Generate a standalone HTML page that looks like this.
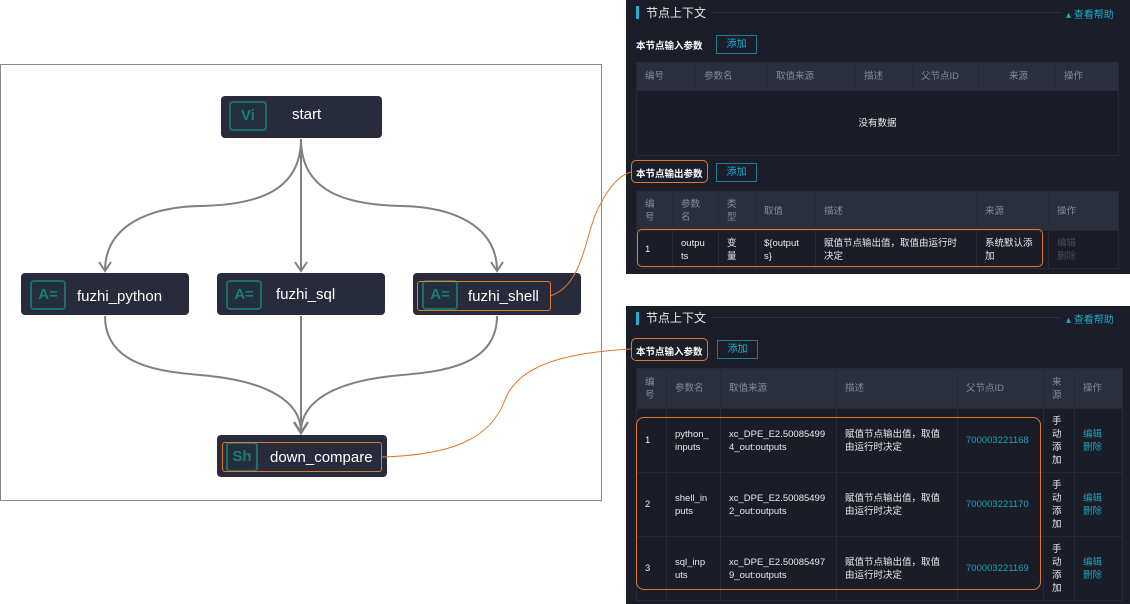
<!DOCTYPE html>
<html><head><meta charset="utf-8"><style>
*{margin:0;padding:0;box-sizing:border-box}
body{width:1130px;height:604px;background:#fff;position:relative;overflow:hidden;font-family:"Liberation Sans","Noto Sans CJK SC",sans-serif}
.abs{position:absolute}
.panel{position:absolute;left:626px;width:504px;background:#1b1e29}
.node{position:absolute;background:#282b3b;border-radius:4px;color:#fff;font-size:15px}
.ic{position:absolute;border:2px solid #1e6e6c;border-radius:4px;background:#232f3c;color:#1e7a76;font-weight:bold;font-size:15px;text-align:center}
table{position:absolute;border-collapse:collapse;table-layout:fixed;font-size:9.5px;color:#eaeaea}
td{border:1px solid #262a36;padding:0 0 0 8px;vertical-align:middle;line-height:13px;background:#1a1d28}
th{border:1px solid #262a36;padding:0 0 0 8px;font-weight:normal;color:#868b98;text-align:left;background:#2a2e3d;line-height:13px}
.bar{position:absolute;left:10px;width:3px;height:13px;background:#1fb0d0}
.ttl{position:absolute;left:20px;font-size:12px;color:#e8e8e8}
.line{position:absolute;left:86px;width:348px;height:1px;background:#2c3040}
.help{position:absolute;left:440px;font-size:10px;color:#1fa9c9}
.sub{position:absolute;left:10px;font-size:9.5px;color:#fff;font-weight:bold}
.btn{position:absolute;width:41px;height:19px;border:1px solid #1d7d92;color:#1fb0d0;font-size:10px;text-align:center;line-height:17px}
.ob{position:absolute;border:1px solid #e0792a;border-radius:5px}
.lk{color:#1fa3b5}
</style></head><body>
<div class="abs" style="left:0;top:64px;width:602px;height:437px;border:1px solid #888"></div>
<svg class="abs" style="left:0;top:0" width="1130" height="604">
<g fill="none" stroke="#808080" stroke-width="2">
<path d="M301 139 C301 195 250 205 200 206 C150 207 105 225 105 271"/>
<path d="M301 139 L301 271"/>
<path d="M301 139 C301 195 352 205 402 206 C452 207 497 225 497 271"/>
<path d="M105 316 C105 370 170 372 210 376 C265 382 301 400 301 432"/>
<path d="M301 316 L301 432"/>
<path d="M497 316 C497 370 432 372 392 376 C337 382 301 400 301 432"/>
<path d="M99 262 L105 271 L111 262"/><path d="M295 262 L301 271 L307 262"/><path d="M491 262 L497 271 L503 262"/>
<path d="M294 422 L301 433 L308 422" stroke-width="2.5"/>
</g>
</svg>
<div class="node" style="left:221px;top:96px;width:161px;height:42px"><div class="ic" style="left:8px;top:5px;width:38px;height:30px;line-height:26px">Vi</div><span class="abs" style="left:71px;top:10px">start</span></div>
<div class="node" style="left:21px;top:273px;width:168px;height:42px"><div class="ic" style="left:9px;top:7px;width:36px;height:30px;line-height:26px">A=</div><span class="abs" style="left:56px;top:15px">fuzhi_python</span></div>
<div class="node" style="left:217px;top:273px;width:168px;height:42px"><div class="ic" style="left:9px;top:7px;width:36px;height:30px;line-height:26px">A=</div><span class="abs" style="left:59px;top:13px">fuzhi_sql</span></div>
<div class="node" style="left:413px;top:273px;width:168px;height:42px"><div class="ic" style="left:9px;top:7px;width:36px;height:30px;line-height:26px">A=</div><span class="abs" style="left:55px;top:15px">fuzhi_shell</span></div>
<div class="ob" style="left:417px;top:281px;width:134px;height:30px;border-radius:3px"></div>
<div class="node" style="left:217px;top:435px;width:170px;height:42px"><div class="ic" style="left:9px;top:7px;width:32px;height:30px;line-height:26px">Sh</div><span class="abs" style="left:53px;top:14px">down_compare</span></div>
<div class="ob" style="left:222px;top:442px;width:160px;height:30px;border-radius:3px"></div>

<div class="panel" style="top:0;height:274px">
<div class="bar" style="top:6px"></div><div class="ttl" style="top:4px">节点上下文</div><div class="line" style="top:12px"></div><div class="help" style="top:6px">▴ 查看帮助</div>
<div class="sub" style="top:38px">本节点输入参数</div><div class="btn" style="left:90px;top:35px">添加</div>
<table style="left:10px;top:62px;width:482px"><colgroup><col width="59"><col width="72"><col width="88"><col width="57"><col width="66"><col width="77"><col width="63"></colgroup>
<tr style="height:28px"><th>编号</th><th>参数名</th><th>取值来源</th><th>描述</th><th>父节点ID</th><th style="padding-left:30px">来源</th><th>操作</th></tr>
<tr style="height:65px"><td colspan="7" style="text-align:center;padding:0">没有数据</td></tr></table>
<div class="sub" style="top:166px">本节点输出参数</div><div class="btn" style="left:90px;top:163px">添加</div>
<div class="ob" style="left:5px;top:160px;width:77px;height:23px"></div>
<table style="left:10px;top:191px;width:482px"><colgroup><col width="36"><col width="46"><col width="37"><col width="60"><col width="161"><col width="72"><col width="70"></colgroup>
<tr style="height:39px"><th>编<br>号</th><th>参数<br>名</th><th>类<br>型</th><th>取值</th><th>描述</th><th>来源</th><th>操作</th></tr>
<tr style="height:38px"><td>1</td><td>outpu<br>ts</td><td>变<br>量</td><td>${output<br>s}</td><td>赋值节点输出值，取值由运行时<br>决定</td><td>系统默认添<br>加</td><td style="color:#444a58">编辑<br>删除</td></tr></table>
<div class="ob" style="left:11px;top:229px;width:406px;height:38px"></div>
</div>

<div class="panel" style="top:306px;height:298px">
<div class="bar" style="top:6px"></div><div class="ttl" style="top:3px">节点上下文</div><div class="line" style="top:11px"></div><div class="help" style="top:5px">▴ 查看帮助</div>
<div class="sub" style="top:38px">本节点输入参数</div><div class="btn" style="left:91px;top:34px">添加</div>
<div class="ob" style="left:5px;top:32px;width:77px;height:23px"></div>
<table style="left:10px;top:62px;width:486px"><colgroup><col width="30"><col width="54"><col width="116"><col width="121"><col width="86"><col width="31"><col width="48"></colgroup>
<tr style="height:40px"><th>编<br>号</th><th>参数名</th><th>取值来源</th><th>描述</th><th>父节点ID</th><th>来<br>源</th><th>操作</th></tr>
<tr style="height:64px"><td>1</td><td>python_<br>inputs</td><td>xc_DPE_E2.50085499<br>4_out:outputs</td><td>赋值节点输出值，取值<br>由运行时决定</td><td class="lk">700003221168</td><td>手<br>动<br>添<br>加</td><td class="lk">编辑<br>删除</td></tr>
<tr style="height:64px"><td>2</td><td>shell_in<br>puts</td><td>xc_DPE_E2.50085499<br>2_out:outputs</td><td>赋值节点输出值，取值<br>由运行时决定</td><td class="lk">700003221170</td><td>手<br>动<br>添<br>加</td><td class="lk">编辑<br>删除</td></tr>
<tr style="height:64px"><td>3</td><td>sql_inp<br>uts</td><td>xc_DPE_E2.50085497<br>9_out:outputs</td><td>赋值节点输出值，取值<br>由运行时决定</td><td class="lk">700003221169</td><td>手<br>动<br>添<br>加</td><td class="lk">编辑<br>删除</td></tr></table>
<div class="ob" style="left:10px;top:111px;width:405px;height:173px;border-radius:8px"></div>
</div>
<svg class="abs" style="left:0;top:0;z-index:5" width="1130" height="604">
<g fill="none" stroke="#e0792a" stroke-width="1">
<path d="M550 296 C585 285 585 230 600 205 C610 185 620 175 631 172"/>
<path d="M382 457 C450 455 490 440 505 400 C520 360 580 352 631 349"/>
</g>
</svg>
</body></html>
